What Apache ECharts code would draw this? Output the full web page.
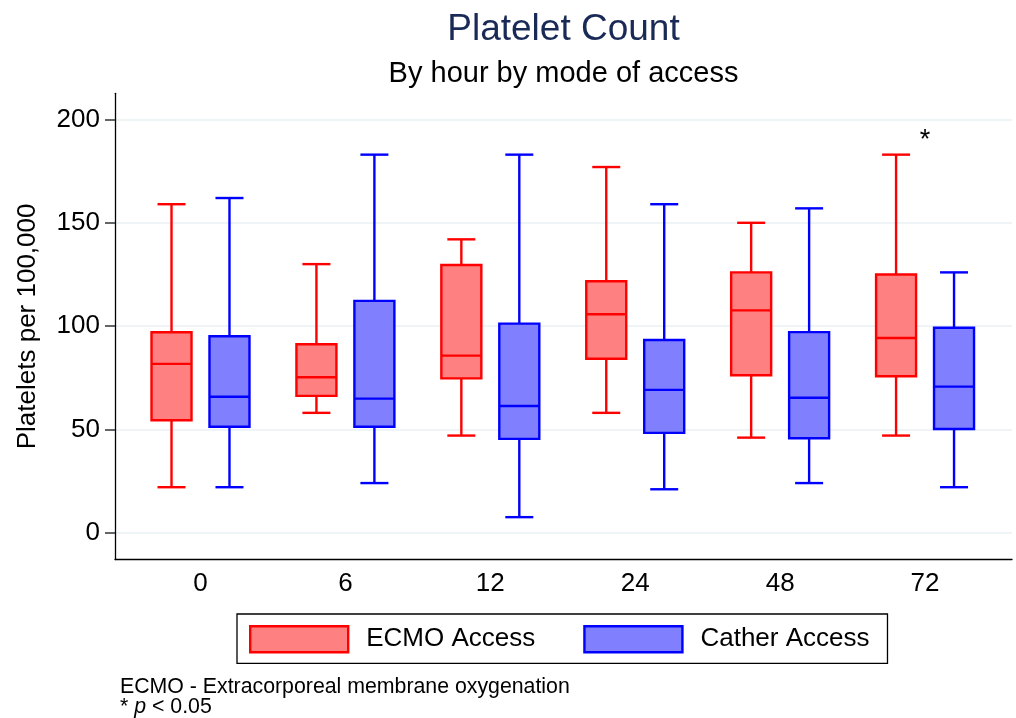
<!DOCTYPE html>
<html>
<head>
<meta charset="utf-8">
<script src="https://cdn.jsdelivr.net/npm/echarts@6/dist/echarts.min.js"></script>
<style>
html,body{margin:0;padding:0;background:#fff;}
#chart{width:1016px;height:718px;}
</style>
</head>
<body>
<div id="chart"></div>
<script>
// ---- data ----
const hours = ['0', '6', '12', '24', '48', '72'];
const yTicks = [0, 50, 100, 150, 200];

const ecmoMin    = [22, 58, 47, 58, 46, 47];
const ecmoQ1     = [54.4, 66.2, 74.7, 84.2, 76.2, 75.7];
const ecmoMedian = [81.7, 75.2, 85.7, 105.7, 107.6, 94.2];
const ecmoQ3     = [97.0, 91.2, 129.6, 121.7, 126, 125];
const ecmoMax    = [159, 130, 142, 177, 150, 183];

const catherMin    = [22, 24, 7.5, 21, 24, 22];
const catherQ1     = [51.3, 51.3, 45.4, 48.3, 45.7, 50.2];
const catherMedian = [65.8, 64.9, 61.3, 69.1, 65.3, 70.7];
const catherQ3     = [95.1, 112.2, 101.2, 93.3, 97.1, 99.2];
const catherMax    = [162, 183, 183, 159, 157, 126];

const sigHourIndex = [5];
const sigValue = [190];

// ---- build ----
const FONT = "'Liberation Sans', Arial, Helvetica, sans-serif";
function rows(mn, q1, md, q3, mx) {
  return hours.map((h, i) => [i, mn[i], q1[i], md[i], q3[i], mx[i]]);
}
function makeRender(offset, fill, stroke) {
  const BOX_W = 40, CAP_W = 28, LW = 2.4;
  return function (params, api) {
    const x = api.value(0) + offset;
    const pMin = api.coord([x, api.value(1)]);
    const pQ1 = api.coord([x, api.value(2)]);
    const pMed = api.coord([x, api.value(3)]);
    const pQ3 = api.coord([x, api.value(4)]);
    const pMax = api.coord([x, api.value(5)]);
    const cx = pMed[0];
    const ls = { stroke: stroke, lineWidth: LW };
    return {
      type: 'group',
      children: [
        { type: 'line', shape: { x1: cx, y1: pQ1[1], x2: cx, y2: pMin[1] }, style: ls },
        { type: 'line', shape: { x1: cx, y1: pQ3[1], x2: cx, y2: pMax[1] }, style: ls },
        { type: 'line', shape: { x1: cx - CAP_W / 2, y1: pMin[1], x2: cx + CAP_W / 2, y2: pMin[1] }, style: ls },
        { type: 'line', shape: { x1: cx - CAP_W / 2, y1: pMax[1], x2: cx + CAP_W / 2, y2: pMax[1] }, style: ls },
        { type: 'rect', shape: { x: cx - BOX_W / 2, y: pQ3[1], width: BOX_W, height: pQ1[1] - pQ3[1] },
          style: { fill: fill, stroke: stroke, lineWidth: LW } },
        { type: 'line', shape: { x1: cx - BOX_W / 2, y1: pMed[1], x2: cx + BOX_W / 2, y2: pMed[1] }, style: ls }
      ]
    };
  };
}

const chart = echarts.init(document.getElementById('chart'), null, { renderer: 'canvas' });
chart.setOption({
  animation: false,
  backgroundColor: '#ffffff',
  textStyle: { fontFamily: FONT },
  title: [
    { text: 'Platelet Count', left: 563.5, top: 11, padding: 0, textAlign: 'center',
      textStyle: { fontFamily: FONT, fontSize: 37, fontWeight: 'normal', color: '#1a2a56' } },
    { text: 'By hour by mode of access', left: 563.5, top: 59, padding: 0, textAlign: 'center',
      textStyle: { fontFamily: FONT, fontSize: 29, fontWeight: 'normal', color: '#000' } },
    { text: '{a|ECMO - Extracorporeal membrane oxygenation}\n{a|* }{i|p}{a| < 0.05}', left: 120, top: 677, padding: 0,
      textStyle: { fontFamily: FONT, fontSize: 21.3, fontWeight: 'normal', color: '#000', lineHeight: 20,
        rich: {
          a: { fontFamily: FONT, fontSize: 21.3, color: '#000', lineHeight: 20 },
          i: { fontFamily: FONT, fontSize: 21.3, color: '#000', fontStyle: 'italic', lineHeight: 20 }
        } } }
  ],
  legend: {
    left: 237, top: 614,
    orient: 'horizontal',
    padding: [11, 18, 10, 12],
    itemWidth: 98, itemHeight: 26, itemGap: 48,
    borderColor: '#000', borderWidth: 1.3,
    selectedMode: false,
    textStyle: { fontFamily: FONT, fontSize: 26, color: '#000', padding: [0, 0, 0, 13] },
    data: [
      { name: 'ECMO Access', icon: 'rect', itemStyle: { color: '#FF8080', borderColor: '#FF0000', borderWidth: 2.4 } },
      { name: 'Cather Access', icon: 'rect', itemStyle: { color: '#8080FF', borderColor: '#0000FF', borderWidth: 2.4 } }
    ]
  },
  grid: { left: 115, right: 4, top: 93.3, bottom: 158.5, containLabel: false },
  xAxis: {
    type: 'value', min: -0.59, max: 5.6,
    axisLine: { show: true, onZero: false, lineStyle: { color: '#000', width: 1.3 } },
    axisTick: { show: false },
    splitLine: { show: false },
    axisLabel: {
      customValues: hours.map((h, i) => i),
      formatter: v => hours[Math.round(v)],
      fontFamily: FONT, fontSize: 26, color: '#000', margin: 11
    }
  },
  yAxis: {
    type: 'value', min: -13, max: 212.7,
    name: 'Platelets per 100,000', nameLocation: 'middle', nameGap: 74,
    nameTextStyle: { fontFamily: FONT, fontSize: 26, color: '#000' },
    axisLine: { show: true, onZero: false, lineStyle: { color: '#000', width: 1.3 } },
    axisTick: { show: true, customValues: yTicks, length: 10, lineStyle: { color: '#333', width: 1.5 } },
    axisLabel: { customValues: yTicks, fontFamily: FONT, fontSize: 26, color: '#000', margin: 15 },
    splitLine: { show: true, lineStyle: { color: '#EAF0F3', width: 1.5 } }
  },
  series: [
    {
      name: 'ECMO Access', type: 'custom',
      renderItem: makeRender(-0.2, '#FF8080', '#FF0000'),
      encode: { x: 0, y: [1, 2, 3, 4, 5] },
      itemStyle: { color: '#FF8080' },
      data: rows(ecmoMin, ecmoQ1, ecmoMedian, ecmoQ3, ecmoMax)
    },
    {
      name: 'Cather Access', type: 'custom',
      renderItem: makeRender(0.2, '#8080FF', '#0000FF'),
      encode: { x: 0, y: [1, 2, 3, 4, 5] },
      itemStyle: { color: '#8080FF' },
      data: rows(catherMin, catherQ1, catherMedian, catherQ3, catherMax)
    },
    {
      name: 'significance', type: 'scatter',
      symbolSize: 1, itemStyle: { color: 'rgba(0,0,0,0)' },
      silent: true,
      label: { show: true, position: 'inside', formatter: '*', fontFamily: FONT, fontSize: 27, color: '#000', opacity: 1 },
      data: sigHourIndex.map((i, k) => [i, sigValue[k]])
    }
  ]
});
</script>
</body>
</html>
